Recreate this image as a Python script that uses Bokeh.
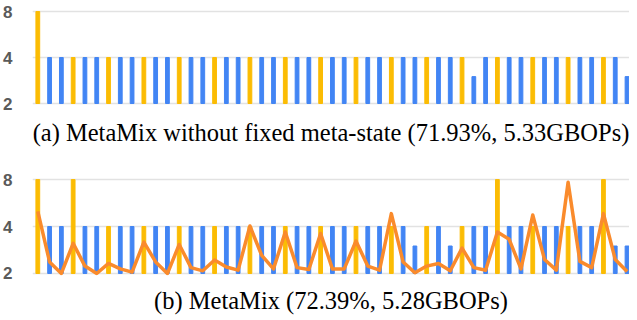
from bokeh.plotting import figure
from bokeh.models import Range1d, FixedTicker, Title, ColumnDataSource, PrintfTickFormatter
from bokeh.layouts import column
from bokeh.embed import file_html
from bokeh.resources import INLINE

# layer index and layer type (Y = yellow layers, B = blue layers)
layers = list(range(51))
layer_type = ["Y", "B", "B", "Y", "B", "B", "Y", "B", "B", "Y",
              "B", "B", "Y", "B", "B", "Y", "B", "B", "Y", "B",
              "B", "Y", "B", "B", "Y", "B", "B", "Y", "B", "B",
              "Y", "B", "B", "Y", "B", "B", "Y", "B", "B", "Y",
              "B", "B", "Y", "B", "B", "Y", "B", "B", "Y", "B", "B"]

# (a) bit-widths without fixed meta-state
bits_a = [8, 4, 4, 4, 4, 4, 4, 4, 4, 4,
          4, 4, 4, 4, 4, 4, 4, 4, 4, 4,
          4, 4, 4, 4, 4, 4, 4, 4, 4, 4,
          4, 4, 4, 4, 4, 4, 4, 3, 4, 4,
          4, 4, 4, 4, 4, 4, 4, 4, 4, 4, 3]

# (b) MetaMix bit-widths
bits_b = [8, 4, 4, 8, 4, 4, 4, 4, 4, 4,
          4, 4, 4, 4, 4, 4, 4, 4, 4, 4,
          4, 4, 4, 4, 4, 4, 4, 4, 4, 4,
          4, 4, 3, 4, 4, 3, 4, 4, 4, 8,
          4, 4, 4, 4, 4, 4, 4, 4, 8, 3, 3]

# (b) meta-state line
meta_b = [5.0, 2.37, 2.0, 3.12, 2.23, 2.0, 2.32, 2.14, 2.04, 3.18,
          2.37, 2.0, 3.07, 2.18, 2.08, 2.44, 2.2, 2.1, 4.03, 2.61,
          2.14, 3.69, 2.18, 2.12, 3.61, 2.14, 2.14, 3.23, 2.23, 2.1,
          4.84, 2.37, 2.02, 2.23, 2.32, 2.08, 2.91, 2.18, 2.1, 3.69,
          3.31, 2.14, 4.74, 2.46, 2.1, 7.7, 2.39, 2.18, 4.84, 2.46, 2.06]

captions = ["(a) MetaMix without fixed meta-state (71.93%, 5.33GBOPs)",
            "(b) MetaMix (72.39%, 5.28GBOPs)"]
y_ticks = [2, 4, 8]

COLORS = {"Y": "#FBBC04", "B": "#4285F4"}
bar_colors = [COLORS[t] for t in layer_type]


def make_panel(bits, caption, height, top_border, bottom_border, standoff, line=None):
    p = figure(width=629, height=height, y_axis_type="log",
               x_range=Range1d(-0.45, 50.21), y_range=Range1d(1.941, 8.25),
               output_backend="svg", toolbar_location=None,
               min_border_left=24, min_border_right=0,
               min_border_top=top_border, min_border_bottom=bottom_border)
    src = ColumnDataSource(dict(x=layers, top=bits, color=bar_colors))
    p.vbar(x="x", top="top", bottom=2, width=0.32, color="color", source=src)
    if line is not None:
        p.line(layers, line, line_color="#FA8B2C", line_width=3.5, line_join="round")
    p.xaxis.visible = False
    p.xgrid.visible = False
    p.ygrid.grid_line_color = "#E2E2E2"
    p.ygrid.grid_line_width = 1.5
    p.ygrid.ticker = FixedTicker(ticks=y_ticks)
    p.yaxis.ticker = FixedTicker(ticks=y_ticks)
    p.yaxis.formatter = PrintfTickFormatter(format="%d")
    p.yaxis.axis_line_color = None
    p.yaxis.major_tick_line_color = None
    p.yaxis.minor_tick_line_color = None
    p.yaxis.major_label_standoff = 14
    p.yaxis.major_label_text_font = "'Liberation Sans', Arial, sans-serif"
    p.yaxis.major_label_text_font_style = "bold"
    p.yaxis.major_label_text_font_size = "17px"
    p.yaxis.major_label_text_color = "#5A5A5A"
    p.outline_line_color = None
    p.add_layout(Title(text=caption, align="center",
                       text_font="'Liberation Serif', 'Times New Roman', serif",
                       text_font_size="24.5px", text_font_style="normal",
                       text_color="black", standoff=standoff, offset=-5), "below")
    return p


p1 = make_panel(bits_a, captions[0], 156, 9, 51, 22)
p2 = make_panel(bits_b, captions[1], 166, 21, 0, 18, line=meta_b)

layout = column(p1, p2, spacing=0)
open("out.html", "w").write(file_html(layout, INLINE))
